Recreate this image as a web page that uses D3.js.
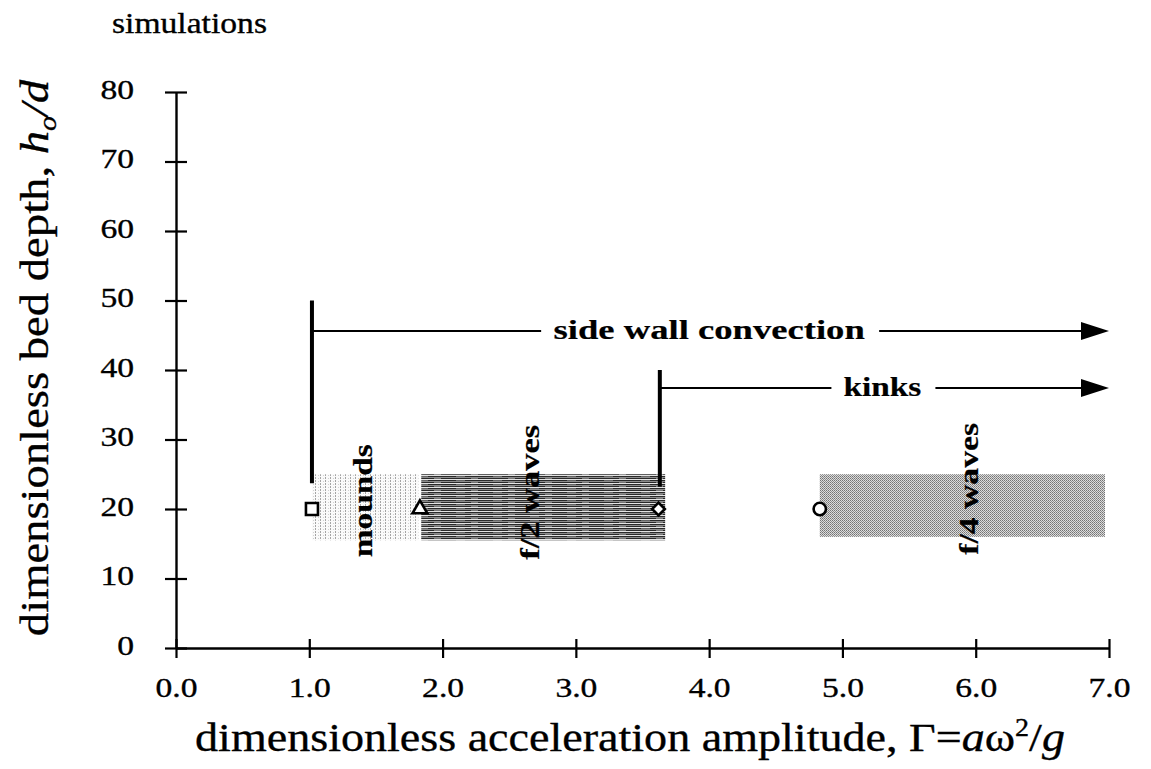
<!DOCTYPE html>
<html>
<head>
<meta charset="utf-8">
<script src="https://cdn.jsdelivr.net/npm/d3@7"></script>
<style>
  html, body { margin: 0; padding: 0; background: #fff; }
  svg { display: block; }
</style>
</head>
<body>
<svg id="chart" width="1151" height="769"></svg>
<script>
// Axis ticks
const gammaTicks = [0, 1, 2, 3, 4, 5, 6, 7];
const depthTicks = [0, 10, 20, 30, 40, 50, 60, 70, 80];

// Simulation points (Gamma, h0/d)
const simGamma  = [1.02, 1.83, 3.62, 4.83];
const simDepth  = [20, 20, 20, 20];
const simSymbol = ["square", "triangle", "diamond", "circle"];

// Pattern regimes
const regimeNames      = ["mounds", "f/2 waves", "f/4 waves"];
const regimeGammaStart = [1.02, 1.84, 4.83];
const regimeGammaEnd   = [1.82, 3.67, 6.97];
const regimeDepthLow   = [15.5, 15.5, 16];
const regimeDepthHigh  = [25, 25, 25];
const regimeFill       = ["mounds", "half", "quarter"];
const regimeLabelGamma = [1.47, 2.72, 6.02];
const regimeLabelDepth = [21.2, 22.4, 22.9];

// Onset of side-wall convection and kinks
const transitionNames      = ["side wall convection", "kinks"];
const transitionGamma      = [1.02, 3.63];
const transitionTop        = [50, 40];
const transitionBottom     = [23.7, 23.2];
const transitionArrowDepth = [45.6, 37.4];
const transitionArrowEnd   = [7.0, 7.0];
const transitionLabelGamma = [4.0, 5.3];

const FONT = '"Liberation Serif", "Times New Roman", serif';
const svg = d3.select("#chart");
const x = d3.scaleLinear().domain([0, 7]).range([176, 1109]);
const y = d3.scaleLinear().domain([0, 80]).range([648, 92]);

// Fill patterns
const defs = svg.append("defs");
const pm = defs.append("pattern").attr("id", "pat-mounds")
  .attr("patternUnits", "userSpaceOnUse").attr("width", 5).attr("height", 3);
pm.append("rect").attr("width", 5).attr("height", 3).attr("fill", "#fafafa");
pm.append("rect").attr("x", 0).attr("y", 0).attr("width", 1).attr("height", 2).attr("fill", "#a4a4a4");
pm.append("rect").attr("x", 3).attr("y", 1).attr("width", 1).attr("height", 1).attr("fill", "#d0d0d0");

const ph = defs.append("pattern").attr("id", "pat-half")
  .attr("patternUnits", "userSpaceOnUse").attr("width", 37).attr("height", 4);
ph.append("rect").attr("width", 37).attr("height", 4).attr("fill", "#2a2a2a");
ph.append("rect").attr("y", 1).attr("width", 37).attr("height", 1).attr("fill", "#8c8c8c");
ph.append("rect").attr("y", 3).attr("width", 37).attr("height", 1).attr("fill", "#e4e4e4");
ph.append("rect").attr("x", 12).attr("y", 0).attr("width", 9).attr("height", 1).attr("fill", "#666");
ph.append("rect").attr("x", 27).attr("y", 2).attr("width", 7).attr("height", 1).attr("fill", "#777");

const pq = defs.append("pattern").attr("id", "pat-quarter")
  .attr("patternUnits", "userSpaceOnUse").attr("width", 2).attr("height", 2);
pq.append("rect").attr("width", 2).attr("height", 2).attr("fill", "#dcdcdc");
pq.append("rect").attr("x", 0).attr("y", 0).attr("width", 1).attr("height", 1).attr("fill", "#747474");
pq.append("rect").attr("x", 1).attr("y", 1).attr("width", 1).attr("height", 1).attr("fill", "#8e8e8e");

// Scale a text element along its own direction so it spans `len` pixels
function fit(sel, len, tx, ty, angle) {
  const w = sel.node().getBBox().width;
  sel.attr("transform", `translate(${tx},${ty}) rotate(${angle || 0}) scale(${len / w},1)`);
}
function label(size, weight) {
  return svg.append("text").attr("text-anchor", "middle")
    .style("font-family", FONT).style("font-size", size + "px")
    .style("font-weight", weight || "normal")
    .attr("fill", "#000").attr("stroke", "#000").attr("stroke-width", weight ? 0.2 : 0.35);
}

// Regime bands
regimeNames.forEach((name, i) => {
  svg.append("rect")
    .attr("x", x(regimeGammaStart[i]))
    .attr("y", y(regimeDepthHigh[i]))
    .attr("width", x(regimeGammaEnd[i]) - x(regimeGammaStart[i]))
    .attr("height", y(regimeDepthLow[i]) - y(regimeDepthHigh[i]))
    .attr("fill", `url(#pat-${regimeFill[i]})`);
});

// Axes
const xAxis = svg.append("g").attr("transform", `translate(0,${y(0)})`)
  .call(d3.axisBottom(x).tickValues(gammaTicks).tickFormat(d3.format(".1f")).tickSizeOuter(0));
const yAxis = svg.append("g").attr("transform", `translate(${x(0)},0)`)
  .call(d3.axisLeft(y).tickValues(depthTicks).tickFormat(d3.format("d")).tickSizeOuter(0));

[xAxis, yAxis].forEach(g => {
  g.select(".domain").attr("stroke", "#000").attr("stroke-width", 2.4);
  g.selectAll(".tick line").attr("stroke", "#000").attr("stroke-width", 2.2);
  g.selectAll(".tick text").attr("fill", "#000").attr("stroke", "#000").attr("stroke-width", 0.35)
    .style("font-family", FONT).style("font-size", "28px");
});
xAxis.selectAll(".tick line").attr("y1", -9).attr("y2", 10);
xAxis.selectAll(".tick text").attr("y", 49).attr("dy", 0).attr("transform", "scale(1.2,1)");
yAxis.selectAll(".tick line").attr("x1", -11).attr("x2", 11);
yAxis.selectAll(".tick text").attr("x", 0).attr("y", 6).attr("dy", 0)
  .attr("text-anchor", "end").attr("transform", "translate(-42,0) scale(1.2,1)");

// Transition bars and arrows
const labelLens = [312, 78];
transitionNames.forEach((name, i) => {
  const ay = y(transitionArrowDepth[i]);
  const x0 = x(transitionGamma[i]);
  const x1 = x(transitionArrowEnd[i]);
  svg.append("line").attr("x1", x0).attr("x2", x1 - 20).attr("y1", ay).attr("y2", ay)
    .attr("stroke", "#000").attr("stroke-width", 2);
  svg.append("path")
    .attr("d", `M${x1},${ay} L${x1 - 28},${ay - 9} L${x1 - 28},${ay + 9} Z`)
    .attr("fill", "#000");
  svg.append("line").attr("x1", x0).attr("x2", x0)
    .attr("y1", y(transitionTop[i])).attr("y2", y(transitionBottom[i]))
    .attr("stroke", "#000").attr("stroke-width", 4);

  const cx = x(transitionLabelGamma[i]);
  svg.append("rect")
    .attr("x", cx - labelLens[i] / 2 - 12).attr("y", ay - 6)
    .attr("width", labelLens[i] + 26).attr("height", 12).attr("fill", "#fff");
  const t = label(28, "bold").text(name);
  fit(t, labelLens[i], cx, ay + 8);
});

// Regime labels (rotated)
const regimeLens = [113, 135, 132];
regimeNames.forEach((name, i) => {
  const t = label(27, "bold").text(name);
  fit(t, regimeLens[i], x(regimeLabelGamma[i]), y(regimeLabelDepth[i]), -90);
});

// Simulation markers
const symType = { square: d3.symbolSquare, triangle: d3.symbolTriangle, circle: d3.symbolCircle, diamond: d3.symbolSquare };
const symSize = { square: 144, triangle: 95, circle: 120, diamond: 80 };
simGamma.forEach((g, i) => {
  const s = simSymbol[i];
  svg.append("path")
    .attr("d", d3.symbol().type(symType[s]).size(symSize[s])())
    .attr("transform", `translate(${x(g)},${y(simDepth[i])})${s === "diamond" ? " rotate(45)" : ""}`)
    .attr("fill", "#fff").attr("stroke", "#000").attr("stroke-width", 2.6);
});

// Titles
const sim = label(29).text("simulations");
fit(sim, 155, 189.5, 33);

const xt = label(41);
xt.append("tspan").text("dimensionless acceleration amplitude, \u0393=");
xt.append("tspan").style("font-style", "italic").text("a");
xt.append("tspan").text("\u03c9");
xt.append("tspan").style("font-size", "25px").attr("dy", -15).text("2");
xt.append("tspan").attr("dy", 15).text("/");
xt.append("tspan").style("font-style", "italic").text("g");
fit(xt, 870, 630, 751);

const yt = label(41);
yt.append("tspan").text("dimensionless bed depth, ");
yt.append("tspan").style("font-style", "italic").text("h");
yt.append("tspan").style("font-style", "italic").style("font-size", "26px").attr("dy", 8).text("o");
yt.append("tspan").style("font-style", "italic").attr("dy", -8).text("/d");
fit(yt, 557, 48, 358, -90);
</script>
</body>
</html>
